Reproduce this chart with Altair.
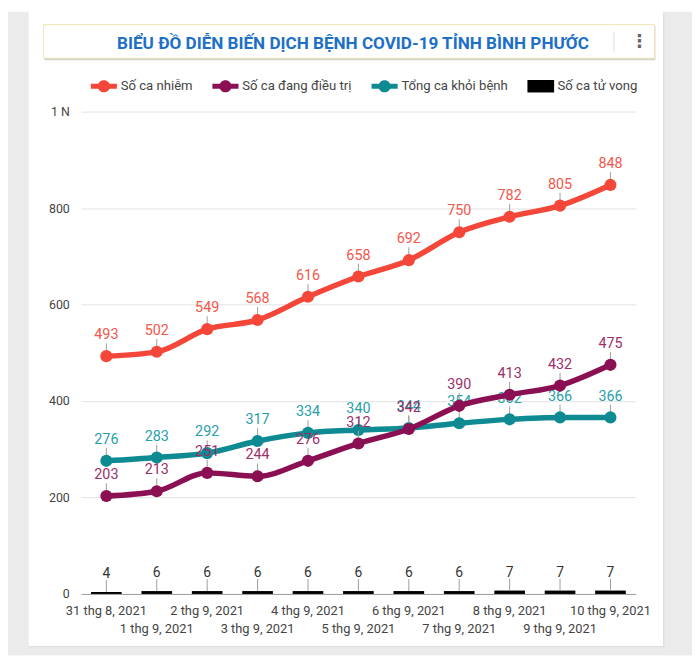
import json
import altair as alt
import pandas as pd

# ---------------- data ----------------
dates = ["31 thg 8, 2021", "1 thg 9, 2021", "2 thg 9, 2021", "3 thg 9, 2021",
         "4 thg 9, 2021", "5 thg 9, 2021", "6 thg 9, 2021", "7 thg 9, 2021",
         "8 thg 9, 2021", "9 thg 9, 2021", "10 thg 9, 2021"]
infected = [493, 502, 549, 568, 616, 658, 692, 750, 782, 805, 848]
treating = [203, 213, 251, 244, 276, 312, 342, 390, 413, 432, 475]
recovered = [276, 283, 292, 317, 334, 340, 344, 354, 362, 366, 366]
deaths = [4, 6, 6, 6, 6, 6, 6, 6, 7, 7, 7]

series_names = ["Số ca nhiễm", "Số ca đang điều trị", "Tổng ca khỏi bệnh", "Số ca tử vong"]
series_colors = ["#f4473a", "#8b1053", "#0e8a92", "#000000"]
label_colors = ["#f4574b", "#9c2f69", "#27a0a8", "#333333"]
title_text = "BIỂU ĐỒ DIỄN BIẾN DỊCH BỆNH COVID-19 TỈNH BÌNH PHƯỚC"
y_ticks = [0, 200, 400, 600, 800, 1000]

series_values = [infected, treating, recovered]
rows = []
for name, vals in zip(series_names[:3], series_values):
    for d, v in zip(dates, vals):
        rows.append({"date": d, "series": name, "value": v})
df_lines = pd.DataFrame(rows)
df_deaths = pd.DataFrame({"date": dates, "series": series_names[3], "value": deaths})
one = pd.DataFrame({"k": [0]})

W, H = 561, 488
FONT = "Roboto"

x_enc = alt.X(
    "date:N", sort=dates, title=None,
    scale=alt.Scale(domain=dates, paddingInner=0, paddingOuter=0),
    axis=alt.Axis(
        labelAngle=0, labelOverlap=False, ticks=False, domain=True,
        domainColor="#9e9e9e", domainWidth=1, grid=False,
        labelFont=FONT, labelFontSize=13, labelColor="#444444",
        labelPadding=11, labelLineHeight=18,
        labelExpr=f"indexof({json.dumps(dates, ensure_ascii=False)}, datum.value) % 2 == 1 ? ['', datum.label] : datum.label",
    ),
)
y_enc = alt.Y(
    "value:Q", title=None,
    scale=alt.Scale(domain=[0, 1000], nice=False, zero=True),
    axis=alt.Axis(
        values=y_ticks, ticks=False, domain=False, grid=True,
        gridColor="#e3e3e3", gridWidth=1,
        labelFont=FONT, labelFontSize=12.5, labelColor="#444444", labelPadding=12,
        labelExpr="datum.value == 1000 ? '1 N' : datum.label",
    ),
)

# ---------------- decorations ----------------
gray = "#ebebeb"
left_strip = alt.Chart(one).mark_rect(color=gray).encode(
    x=alt.value(-74), x2=alt.value(-53), y=alt.value(-101), y2=alt.value(550))
right_strip = alt.Chart(one).mark_rect(color=gray).encode(
    x=alt.value(589), x2=alt.value(620), y=alt.value(-101), y2=alt.value(550))
bottom_strip = alt.Chart(one).mark_rect(color=gray).encode(
    x=alt.value(-74), x2=alt.value(620), y=alt.value(541), y2=alt.value(550))
card_shadow_r = alt.Chart(one).mark_rect(color="#dadada").encode(
    x=alt.value(589), x2=alt.value(590), y=alt.value(-100), y2=alt.value(542))
card_shadow_b = alt.Chart(one).mark_rect(color="#dadada").encode(
    x=alt.value(-53), x2=alt.value(590), y=alt.value(541), y2=alt.value(542))
box_shadow = alt.Chart(one).mark_rect(color="#d2d2d2").encode(
    x=alt.value(-37), x2=alt.value(581), y=alt.value(-87), y2=alt.value(-52))
box = alt.Chart(one).mark_rect(fill="white", stroke="#f3e3b0", strokeWidth=1).encode(
    x=alt.value(-38), x2=alt.value(580), y=alt.value(-88), y2=alt.value(-54))
title_mark = alt.Chart(one).mark_text(
    text=title_text, font=FONT, fontSize=17.3, fontWeight="bold", color="#1d6fc7",
    align="center", baseline="middle").encode(x=alt.value(275), y=alt.value(-68))
separator = alt.Chart(one).mark_rule(color="#dddddd").encode(
    x=alt.value(539), y=alt.value(-81), y2=alt.value(-61))
dots = alt.Chart(one).mark_text(
    text="⋮", font="DejaVu Sans", fontSize=18, fontWeight="bold", color="#666666",
    align="center", baseline="middle").encode(x=alt.value(565), y=alt.value(-70))

# ---------------- deaths bars ----------------
bars = alt.Chart(df_deaths).mark_bar(size=31, color="#000000").encode(x=x_enc, y=y_enc)
bar_stems = alt.Chart(df_deaths).mark_rule(color="#9e9e9e", strokeWidth=1, y2Offset=-12).encode(
    x=x_enc, y=y_enc, y2="value:Q")
bar_labels = alt.Chart(df_deaths).mark_text(
    font=FONT, fontSize=14, baseline="alphabetic", dy=-14, color="#333333").encode(
    x=x_enc, y=y_enc, text="value:Q")

# ---------------- lines (drawn teal, maroon, red) ----------------
layers = []
for i in [2, 1, 0]:
    d = df_lines[df_lines["series"] == series_names[i]]
    base = alt.Chart(d)
    stems = base.mark_rule(color="#9e9e9e", strokeWidth=1, y2Offset=-13).encode(
        x=x_enc, y=y_enc, y2="value:Q")
    line = base.mark_line(strokeWidth=5.5, interpolate="monotone",
                          color=series_colors[i]).encode(x=x_enc, y=y_enc)
    pts = base.mark_circle(size=150, opacity=1, color=series_colors[i]).encode(
        x=x_enc, y=y_enc)
    labels = base.mark_text(font=FONT, fontSize=14.5, baseline="alphabetic", dy=-17,
                            color=label_colors[i]).encode(
        x=x_enc, y=y_enc, text="value:Q")
    layers += [stems, line, pts, labels]

# ---------------- legend ----------------
line_sym = ("M-2.2,-0.42L2.2,-0.42L2.2,0.42L-2.2,0.42Z "
            "M1.03,0A1.03,1.03,0,1,1,-1.03,0A1.03,1.03,0,1,1,1.03,0Z")
rect_sym = "M-2.25,-1.05L2.25,-1.05L2.25,1.05L-2.25,1.05Z"
legend_cfg = dict(
    orient="none", legendX=16, legendY=-33, direction="horizontal", title=None,
    symbolSize=144, labelFont=FONT, labelFontSize=13.3,
    labelColor="#444444", labelOffset=10, columnPadding=19,
)
df_leg = pd.DataFrame({"series": series_names, "date": dates[:4], "value": [0, 0, 0, 0]})
legend_layer = alt.Chart(df_leg).mark_point(filled=True, opacity=1).encode(
    x=x_enc, y=y_enc,
    color=alt.Color("series:N", scale=alt.Scale(domain=series_names, range=series_colors),
                    legend=alt.Legend(**legend_cfg)),
    shape=alt.Shape("series:N", scale=alt.Scale(domain=series_names,
                                                 range=[line_sym, line_sym, line_sym, rect_sym]),
                    legend=alt.Legend(**legend_cfg)),
).transform_filter("false")

chart = alt.layer(
    left_strip, right_strip, bottom_strip, card_shadow_r, card_shadow_b,
    box_shadow, box, title_mark, separator, dots,
    bars, bar_stems, bar_labels, *layers, legend_layer,
).properties(
    width=W, height=H,
    autosize=alt.AutoSizeParams(type="none"),
    padding={"left": 74, "top": 101, "right": 57, "bottom": 62},
    background="white",
).configure_view(stroke=None)

chart.save("out.html", embed_options={"renderer": "svg", "actions": False})
